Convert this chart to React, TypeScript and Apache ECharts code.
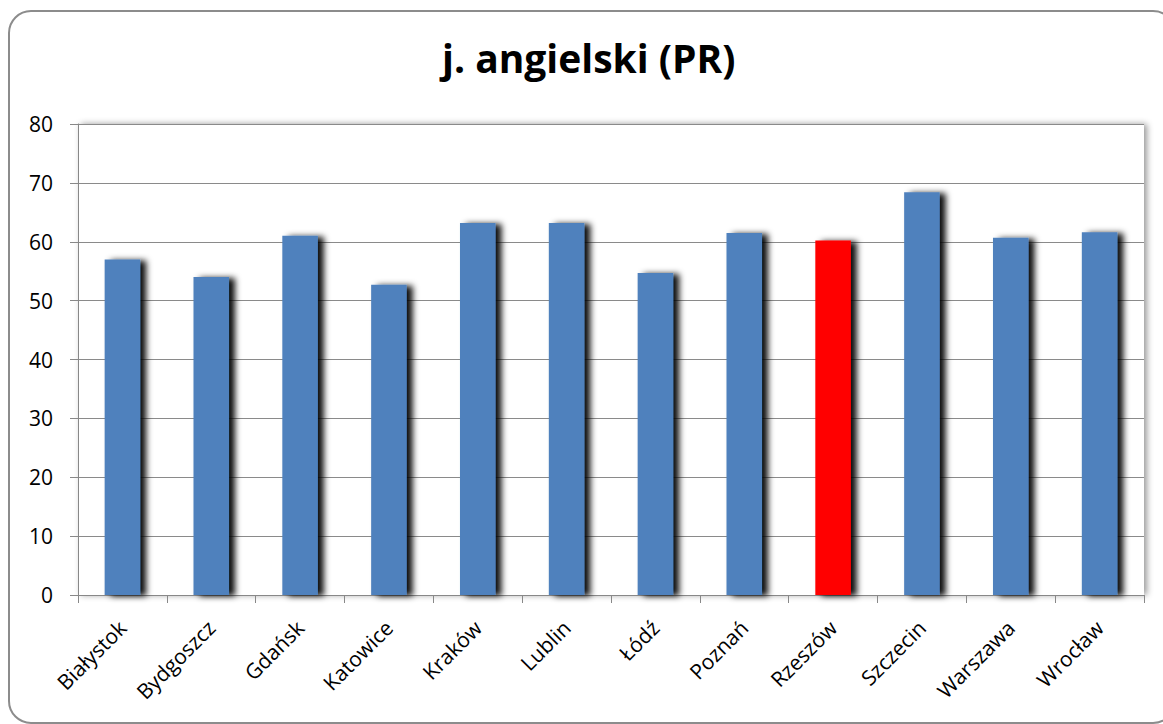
import React, { useEffect, useRef } from "react";
import * as echarts from "echarts";

const title = "j. angielski (PR)";
const cities = ["Białystok", "Bydgoszcz", "Gdańsk", "Katowice", "Kraków", "Lublin", "Łódź", "Poznań", "Rzeszów", "Szczecin", "Warszawa", "Wrocław"];
const scores = [57.0, 54.0, 61.0, 52.7, 63.2, 63.2, 54.7, 61.5, 60.2, 68.4, 60.7, 61.6];
const highlighted = "Rzeszów";
const yTicks = { min: 0, max: 80, interval: 10 };

export default function App() {
  const ref = useRef<HTMLDivElement>(null);
  useEffect(() => {
    if (!ref.current) return;
    const chart = echarts.init(ref.current, null, { renderer: "svg" });
    const font = "'Open Sans', 'Noto Sans', sans-serif";
    chart.setOption({
      animation: false,
      backgroundColor: "#ffffff",
      title: {
        text: title,
        left: 437,
        top: 33,
        padding: 5,
        textStyle: { fontFamily: font, fontWeight: "bold", fontSize: 39, color: "#000" },
      },
      graphic: [
        {
          type: "rect",
          z: -10,
          shape: { x: 9, y: 11, width: 1166, height: 712, r: 22 },
          style: { fill: "none", stroke: "#8c8c8c", lineWidth: 2 },
          silent: true,
        },
      ],
      grid: {
        left: 78,
        right: 19,
        top: 124,
        bottom: 129,
        show: true,
        backgroundColor: "#ffffff",
        borderColor: "#999",
        borderWidth: 0,
        shadowColor: "rgba(0,0,0,0.4)",
        shadowBlur: 6,
        shadowOffsetX: 3,
        shadowOffsetY: 0,
      },
      xAxis: {
        type: "category",
        data: cities,
        axisLine: { show: true, lineStyle: { color: "#888", width: 1 } },
        axisTick: { show: true, length: 8, lineStyle: { color: "#888" } },
        axisLabel: {
          rotate: 45,
          fontFamily: font,
          fontSize: 21,
          color: "#000",
          margin: 29,
        },
      },
      yAxis: {
        type: "value",
        min: yTicks.min,
        max: yTicks.max,
        interval: yTicks.interval,
        axisLine: { show: true, lineStyle: { color: "#888", width: 1 } },
        axisTick: { show: true, length: 8, lineStyle: { color: "#888" } },
        splitLine: { show: true, lineStyle: { color: "#8a8a8a", width: 1 } },
        axisLabel: { fontFamily: font, fontSize: 21, color: "#000", margin: 25 },
      },
      series: [
        {
          type: "bar",
          barWidth: "40%",
          data: scores.map((v, i) => ({
            value: v,
            itemStyle: {
              color: cities[i] === highlighted ? "#ff0000" : "#4f81bd",
            },
          })),
          itemStyle: {
            shadowColor: "rgba(0,0,0,0.95)",
            shadowBlur: 6,
            shadowOffsetX: 6,
            shadowOffsetY: 1,
          },
        },
      ],
    });
    return () => chart.dispose();
  }, []);
  return (
    <div
      ref={ref}
      style={{ position: "absolute", left: 0, top: 0, width: 1163, height: 724 }}
    />
  );
}
